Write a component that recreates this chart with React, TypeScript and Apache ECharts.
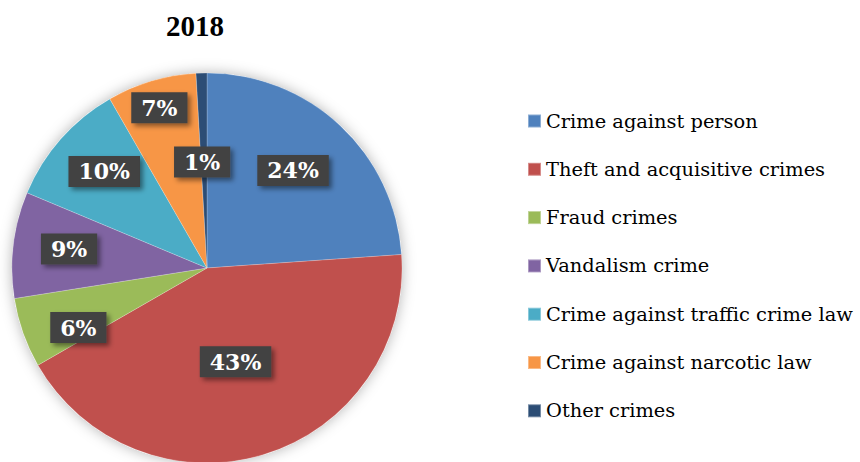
import React, { useEffect, useRef } from "react";
import * as echarts from "echarts";

const title = "2018";
const categories = [
  "Crime against person",
  "Theft and acquisitive crimes",
  "Fraud crimes",
  "Vandalism crime",
  "Crime against traffic crime law",
  "Crime against narcotic law",
  "Other crimes",
];
const shares = [23.9, 42.8, 5.8, 8.8, 10.4, 7.4, 0.9];
const colors = ["#4F81BD", "#C0504D", "#9BBB59", "#8064A2", "#4BACC6", "#F79646", "#2C4D75"];

// label placement (layout only): radial fraction and angular shift in degrees
const labelRadius = [0.667, 0.503, 0.727, 0.714, 0.723, 0.857, 0.544];
const labelShift = [-1.6, 0, -5.4, 1, 1.8, 0, -1];

const CX = 207;
const CY = 268;
const R = 195;

export default function App() {
  const ref = useRef<HTMLDivElement>(null);
  useEffect(() => {
    document.body.style.margin = "0";
    const chart = echarts.init(ref.current!, null, { renderer: "svg" });
    const total = shares.reduce((a, b) => a + b, 0);
    const mids: number[] = [];
    let cum = 0;
    shares.forEach((v) => {
      mids.push(((cum + v / 2) / total) * 360);
      cum += v;
    });
    chart.setOption({
      animation: false,
      backgroundColor: "#ffffff",
      title: {
        text: title,
        left: 190,
        top: 6,
        textAlign: "center",
        textStyle: {
          fontFamily: "Liberation Serif",
          fontWeight: "bold",
          fontSize: 29,
          color: "#000000",
        },
      },
      legend: {
        orient: "vertical",
        left: 527,
        top: 111,
        padding: 0,
        itemWidth: 13,
        itemHeight: 13,
        itemGap: 28.3,
        icon: "rect",
        data: categories,
        textStyle: {
          fontFamily: "DejaVu Serif",
          fontSize: 19.4,
          lineHeight: 20,
          color: "#000000",
        },
      },
      series: [
        {
          type: "pie",
          silent: true,
          center: [CX, CY],
          radius: R,
          label: { show: false },
          labelLine: { show: false },
          itemStyle: {
            color: "#ffffff",
            shadowBlur: 14,
            shadowColor: "rgba(0,0,0,0.3)",
          },
          data: [{ value: 1, name: "__bg" }],
        },
        {
          type: "pie",
          center: [CX, CY],
          radius: R,
          startAngle: 90,
          clockwise: true,
          itemStyle: {
            borderColor: "rgba(255,255,255,0.35)",
            borderWidth: 0.6,
          },
          label: {
            show: true,
            position: "inside",
            formatter: (p: any) => `${Math.round(p.percent)}%`,
            fontFamily: "DejaVu Serif",
            fontWeight: "bold",
            fontSize: 22,
            color: "#ffffff",
            backgroundColor: "#424242",
            padding: [5, 10, 4, 10],
            shadowColor: "rgba(0,0,0,0.45)",
            shadowBlur: 5,
            shadowOffsetX: 3,
            shadowOffsetY: 3,
          },
          labelLine: { show: false },
          labelLayout: (params: any) => {
            const i = params.dataIndex;
            const a = ((mids[i] + labelShift[i]) * Math.PI) / 180;
            const d = labelRadius[i] * R;
            return {
              x: CX + d * Math.sin(a),
              y: CY - d * Math.cos(a),
              align: "center",
              verticalAlign: "middle",
            };
          },
          data: categories.map((name, i) => ({
            name,
            value: shares[i],
            itemStyle: { color: colors[i] },
          })),
        },
      ],
    });
    return () => chart.dispose();
  }, []);
  return <div ref={ref} style={{ width: 860, height: 462 }} />;
}
